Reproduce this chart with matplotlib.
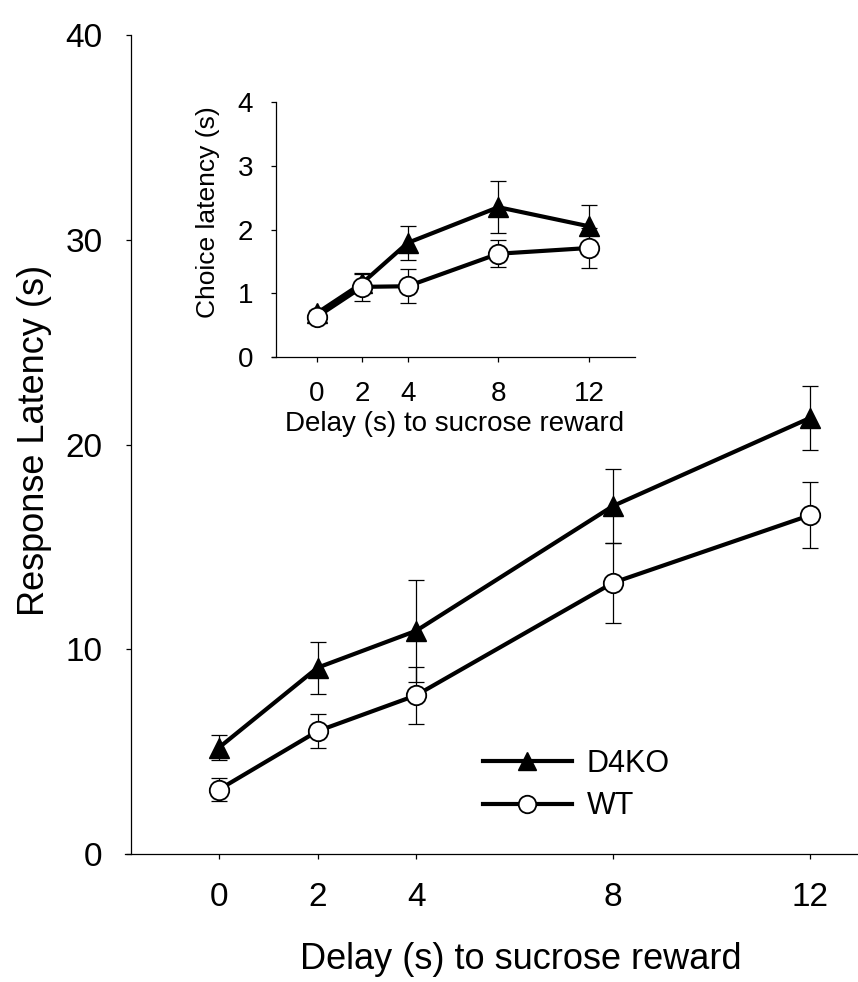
"""Response latency vs. delay to sucrose reward, D4KO vs WT, with choice-latency inset."""
import matplotlib
matplotlib.use("Agg")
import matplotlib.pyplot as plt

plt.rcParams["font.family"] = ["Liberation Sans", "DejaVu Sans"]

# --- data ---
DELAYS = [0, 2, 4, 8, 12]
DELAY_TICKS = [0, 2, 4, 8, 12]

D4KO_LAT = [5.2, 9.1, 10.9, 17.0, 21.3]
D4KO_ERR = [0.6, 1.27, 2.5, 1.8, 1.56]
WT_LAT = [3.15, 6.0, 7.75, 13.25, 16.55]
WT_ERR = [0.58, 0.83, 1.4, 1.95, 1.6]

D4KO_CHOICE = [0.69, 1.16, 1.79, 2.35, 2.05]
D4KO_CHOICE_ERR = [0.05, 0.14, 0.27, 0.41, 0.34]
WT_CHOICE = [0.63, 1.10, 1.11, 1.62, 1.71]
WT_CHOICE_ERR = [0.05, 0.22, 0.27, 0.21, 0.31]

MAIN_YTICKS = [0, 10, 20, 30, 40]
INSET_YTICKS = [0, 1, 2, 3, 4]

W, H = 858, 982


def px_rect(left, top, right, bottom):
    """Figure-fraction rect from pixel edges."""
    return [left / W, 1 - bottom / H, (right - left) / W, (bottom - top) / H]


def style_axes(ax, spine_x, tick_pad_y, tick_pad_x, size):
    # SigmaPlot look: only left/bottom, y spine sits a hair right of the x start
    for side in ("top", "right"):
        ax.spines[side].set_visible(False)
    ax.spines["left"].set_position(("data", spine_x))
    for side in ("left", "bottom"):
        ax.spines[side].set_linewidth(0.9)
    ax.tick_params(axis="both", direction="out", length=3.5, width=0.9,
                   labelsize=size)
    ax.tick_params(axis="y", pad=tick_pad_y)
    ax.tick_params(axis="x", pad=tick_pad_x)


def draw_pair(ax, ko, ko_err, wt, wt_err):
    eb = dict(fmt="none", ecolor="black", elinewidth=0.9, capsize=6,
              capthick=0.9, zorder=1)
    ax.errorbar(DELAYS, ko, yerr=ko_err, **eb)
    ax.errorbar(DELAYS, wt, yerr=wt_err, **eb)
    h_ko, = ax.plot(DELAYS, ko, color="black", lw=3, marker="^", ms=14,
                    zorder=3, label="D4KO")
    h_wt, = ax.plot(DELAYS, wt, color="black", lw=3, marker="o", ms=14,
                    mfc="white", mec="black", mew=1.3, zorder=4, label="WT")
    return h_ko, h_wt


fig = plt.figure(figsize=(W / 100, H / 100), dpi=100)
fig.patch.set_facecolor("white")

# --- main panel ---
ax = fig.add_axes(px_rect(125, 35, 857, 854))
h_ko, h_wt = draw_pair(ax, D4KO_LAT, D4KO_ERR, WT_LAT, WT_ERR)
ax.set_xlim(-1.909, 12.95)
ax.set_ylim(0, 40)
ax.set_xticks(DELAY_TICKS)
ax.set_yticks(MAIN_YTICKS)
style_axes(ax, -1.787, 17, 17, 24)
ax.set_xlabel("Delay (s) to sucrose reward", fontsize=26)
ax.set_ylabel("Response Latency (s)", fontsize=26)
ax.xaxis.set_label_coords(0.541, -0.107)
ax.yaxis.set_label_coords(-0.1, 0.505)

ax.legend(handles=[h_ko, h_wt], loc="upper left", bbox_to_anchor=(0.489, 0.128),
          frameon=False, fontsize=22, handlelength=2.9, handletextpad=0.5,
          labelspacing=0.4, borderpad=0, borderaxespad=0, numpoints=1,
          markerscale=0.9)

# --- inset: choice latency ---
ins = fig.add_axes(px_rect(272, 102, 635, 357))
ins.patch.set_alpha(0)
draw_pair(ins, D4KO_CHOICE, D4KO_CHOICE_ERR, WT_CHOICE, WT_CHOICE_ERR)
ins.set_xlim(-1.985, 14.03)
ins.set_ylim(0, 4)
ins.set_xticks(DELAY_TICKS)
ins.set_yticks(INSET_YTICKS)
style_axes(ins, -1.81, 13, 14, 20)
ins.set_xlabel("Delay (s) to sucrose reward", fontsize=20)
ins.set_ylabel("Choice latency (s)", fontsize=19)
ins.xaxis.set_label_coords(0.504, -0.212)
ins.yaxis.set_label_coords(-0.143, 0.569)

fig.savefig("out.png", dpi=100, facecolor="white")
